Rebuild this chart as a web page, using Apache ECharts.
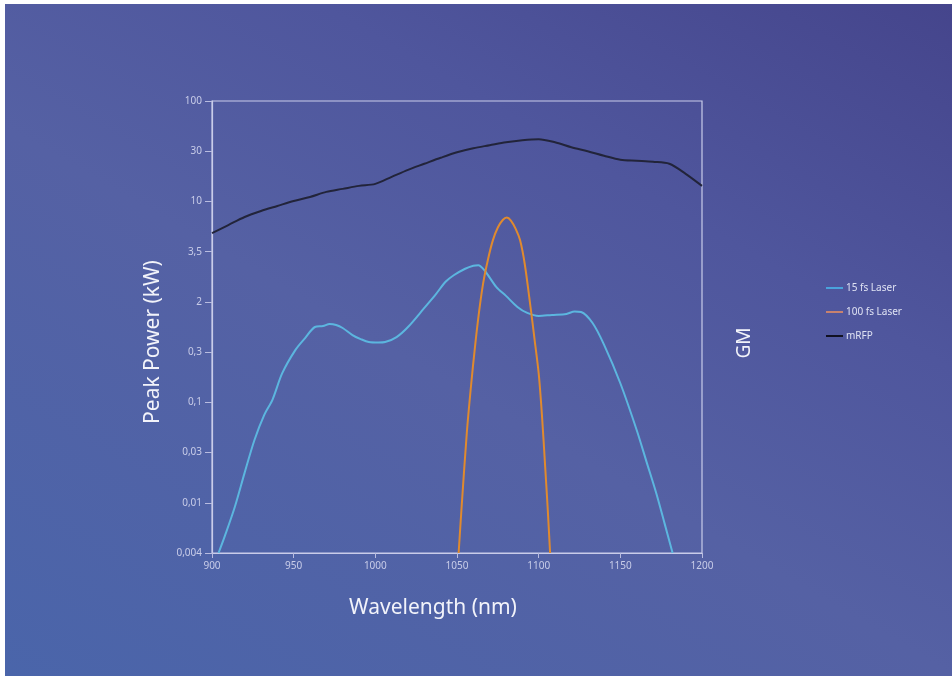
<!DOCTYPE html>
<html>
<head>
<meta charset="utf-8">
<script src="https://cdn.jsdelivr.net/npm/echarts@6/dist/echarts.min.js"></script>
<style>
html,body{margin:0;padding:0;background:#ffffff;width:952px;height:677px;overflow:hidden;}
#bg{position:absolute;left:5px;top:4px;width:947px;height:672px;
background:linear-gradient(30deg,#4a65aa 0%,#5561a4 45%,#4f569d 70%,#45458c 100%);}
#chart{position:absolute;left:0;top:0;width:952px;height:677px;}
</style>
</head>
<body>
<div id="bg"></div>
<div id="chart"></div>
<script>
// Y tick labels (evenly spaced levels, bottom to top)
const yTickLabels = ['0,004','0,01','0,03','0,1','0,3','2','3,5','10','30','100'];
const xTicks = [900, 950, 1000, 1050, 1100, 1150, 1200];

// 15 fs Laser: [wavelength nm, level on axis]
const laser15Wl = [904,908,914,920,926,932,937,943,951,957,963,968,972,976,980,986,991,996,1002,1006,1013,1020,1030,1037,1043,1048,1055,1060,1063,1067,1074,1080,1087,1093,1100,1108,1117,1122,1126,1133,1140,1150,1160,1166,1172,1177,1182];
const laser15Val = [0,0.35,0.92,1.6,2.25,2.75,3.05,3.58,4.04,4.28,4.50,4.52,4.56,4.54,4.48,4.34,4.26,4.20,4.19,4.20,4.30,4.50,4.88,5.15,5.40,5.53,5.66,5.72,5.73,5.62,5.30,5.12,4.90,4.78,4.72,4.74,4.76,4.81,4.80,4.58,4.15,3.38,2.45,1.82,1.19,0.6,0];

// 100 fs Laser
const laser100Wl = [1051,1053,1056,1058.5,1061,1063.5,1066,1069,1072,1075,1078,1080.5,1083,1086,1088.6,1091.5,1095,1097.5,1100,1102,1104,1105.5,1107];
const laser100Val = [0,1.0,2.39,3.3,4.10,4.8,5.37,5.85,6.23,6.48,6.63,6.68,6.62,6.45,6.23,5.75,4.90,4.25,3.58,2.75,1.71,0.9,0];

// mRFP
const mrfpWl = [900,910,920,930,940,950,960,970,980,990,1000,1010,1020,1030,1040,1050,1060,1070,1080,1090,1100,1110,1120,1130,1140,1150,1160,1170,1180,1190,1200];
const mrfpVal = [6.37,6.53,6.69,6.81,6.91,7.01,7.09,7.19,7.25,7.31,7.35,7.49,7.63,7.75,7.87,7.98,8.06,8.12,8.18,8.22,8.24,8.18,8.08,8.00,7.91,7.83,7.81,7.79,7.75,7.55,7.31];

const zip = (a, b) => a.map((v, i) => [v, b[i]]);

const chart = echarts.init(document.getElementById('chart'), null, {renderer: 'canvas'});
const font = '"Noto Sans", "Open Sans", sans-serif';
chart.setOption({
  backgroundColor: 'transparent',
  animation: false,
  textStyle: {fontFamily: font},
  grid: {left: 212, right: 250, top: 101, bottom: 124, show: true, borderColor: '#c9cce9', borderWidth: 1.2, backgroundColor: 'transparent'},
  legend: {
    orient: 'vertical', left: 826, top: 283, padding: 0, itemWidth: 17, itemHeight: 2, itemGap: 14,
    icon: 'rect',
    textStyle: {color: '#dfe2f3', fontSize: 10, fontFamily: font, padding: [0,0,0,-2]},
    data: ['15 fs Laser', '100 fs Laser', 'mRFP']
  },
  xAxis: {
    type: 'value', min: 900, max: 1200, interval: 50,
    axisLine: {show: true, lineStyle: {color: '#c9cce9', width: 1.2}},
    axisTick: {show: true, length: 5, lineStyle: {color: '#b8bce0'}},
    axisLabel: {color: '#c8cce8', fontSize: 10, margin: 8, formatter: (v) => String(v)},
    splitLine: {show: false}
  },
  yAxis: {
    type: 'value', min: 0, max: 9, interval: 1,
    axisLine: {show: true, lineStyle: {color: '#c9cce9', width: 1.2}},
    axisTick: {show: true, length: 7, lineStyle: {color: '#b8bce0'}},
    axisLabel: {color: '#c8cce8', fontSize: 10, margin: 10, formatter: (v) => yTickLabels[Math.round(v)]},
    splitLine: {show: false}
  },
  graphic: [
    {type: 'text', x: 745, y: 343, rotation: Math.PI / 2,
      style: {text: 'GM', fill: '#f2f3fa', fontSize: 19, fontFamily: font, align: 'center', verticalAlign: 'middle'}},
    {type: 'text', x: 433, y: 608,
      style: {text: 'Wavelength (nm)', fill: '#f2f3fa', fontSize: 21, fontFamily: font, align: 'center', verticalAlign: 'middle'}},
    {type: 'text', x: 153, y: 342, rotation: Math.PI / 2,
      style: {text: 'Peak Power (kW)', fill: '#f2f3fa', fontSize: 21, fontFamily: font, align: 'center', verticalAlign: 'middle'}}
  ],
  series: [
    {name: '15 fs Laser', type: 'line', data: zip(laser15Wl, laser15Val), showSymbol: false, smooth: 0.3,
      lineStyle: {color: '#5cb6df', width: 2}, itemStyle: {color: '#4aa3dc'}, clip: true},
    {name: '100 fs Laser', type: 'line', data: zip(laser100Wl, laser100Val), showSymbol: false, smooth: 0.3,
      lineStyle: {color: '#e08a2e', width: 2}, itemStyle: {color: '#c8826e'}, clip: true},
    {name: 'mRFP', type: 'line', data: zip(mrfpWl, mrfpVal), showSymbol: false, smooth: 0.3,
      lineStyle: {color: '#22243a', width: 2}, itemStyle: {color: '#111122'}, clip: true}
  ]
});
</script>
</body>
</html>
